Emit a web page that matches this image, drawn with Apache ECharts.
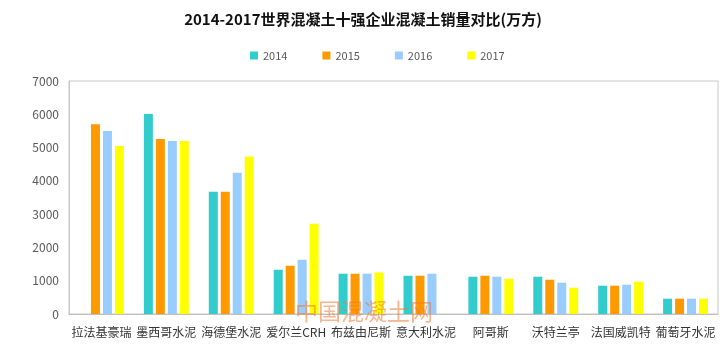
<!DOCTYPE html>
<html>
<head>
<meta charset="utf-8">
<script src="https://cdn.jsdelivr.net/npm/echarts@6/dist/echarts.min.js"></script>
<style>
  html, body { margin: 0; padding: 0; background: #fff; }
  #chart { width: 726px; height: 354px; }
</style>
</head>
<body>
<div id="chart"></div>
<script>
// 数据
const companies = ['拉法基豪瑞', '墨西哥水泥', '海德堡水泥', '爱尔兰CRH', '布兹由尼斯', '意大利水泥', '阿哥斯', '沃特兰亭', '法国威凯特', '葡萄牙水泥'];
const years = ['2014', '2015', '2016', '2017'];
const sales2014 = [null, 6010, 3670, 1330, 1210, 1150, 1120, 1120, 850, 460];
const sales2015 = [5700, 5260, 3670, 1450, 1210, 1150, 1150, 1030, 850, 460];
const sales2016 = [5500, 5200, 4240, 1630, 1210, 1210, 1120, 940, 880, 460];
const sales2017 = [5050, 5200, 4730, 2710, 1250, null, 1060, 790, 970, 460];
const yearColors = ['#33CCCC', '#FF9900', '#99CCFF', '#FFFF00'];

const allSales = [sales2014, sales2015, sales2016, sales2017];
const chart = echarts.init(document.getElementById('chart'));

const font = '"Noto Sans CJK SC", "Noto Sans", sans-serif';

chart.setOption({
  animation: false,
  textStyle: { fontFamily: font },
  title: {
    text: '2014-2017世界混凝土十强企业混凝土销量对比(万方)',
    left: 'center',
    top: 7,
    textStyle: { fontSize: 15, fontWeight: 'bold', color: '#111', fontFamily: font }
  },
  legend: {
    data: years,
    top: 50,
    left: 250,
    padding: 0,
    itemWidth: 8,
    itemHeight: 8,
    itemGap: 35,
    icon: 'rect',
    textStyle: { fontSize: 11, color: '#595959' }
  },
  grid: {
    left: 69,
    right: 8,
    top: 81,
    bottom: 40,
    show: true,
    borderColor: '#c8c8c8',
    borderWidth: 1
  },
  xAxis: {
    type: 'category',
    data: companies,
    axisTick: { show: false },
    axisLine: { lineStyle: { color: '#bfbfbf' } },
    axisLabel: { interval: 0, fontSize: 12, color: '#333', margin: 12 }
  },
  yAxis: {
    type: 'value',
    min: 0,
    max: 7000,
    interval: 1000,
    splitLine: { show: false },
    axisLine: { show: true, lineStyle: { color: '#c8c8c8' } },
    axisTick: { show: false },
    axisLabel: { fontSize: 12, color: '#595959', margin: 10, formatter: v => String(v) }
  },
  series: years.map((y, i) => ({
    name: y,
    type: 'bar',
    data: allSales[i],
    barWidth: 9,
    barGap: '33%',
    itemStyle: { color: yearColors[i] }
  })),
  graphic: [{
    type: 'text',
    left: 295,
    top: 300,
    z: 100,
    style: {
      text: '中国混凝土网',
      fontSize: 23,
      fontFamily: font,
      fill: 'rgba(236, 120, 50, 0.55)'
    }
  }]
});
</script>
</body>
</html>
